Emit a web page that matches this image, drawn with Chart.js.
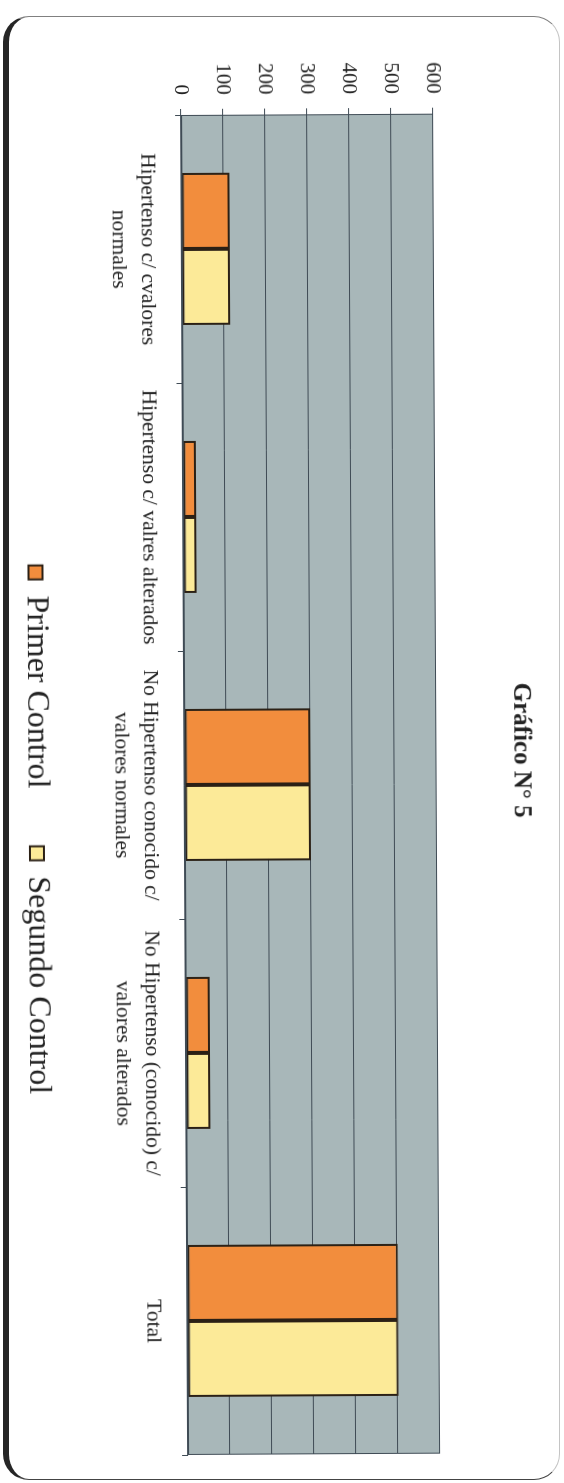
<!DOCTYPE html>
<html>
<head>
<meta charset="utf-8">
<title>Gráfico N° 5</title>
<script src="https://cdn.jsdelivr.net/npm/chart.js@4.4.1/dist/chart.umd.min.js"></script>
<style>
  body { margin: 0; background: #fff; width: 564px; height: 1483px; overflow: hidden; position: relative; }
  /* borde de la hoja escaneada */
  .hoja {
    position: absolute; left: 3px; top: 16px; width: 550px; height: 1462px;
    border: 1px solid #c4c4c4; border-top-color: #808080; border-bottom-color: #444;
    border-left: 6px solid #262626; border-radius: 26px;
  }
  /* el grafico esta impreso girado sobre la pagina */
  #giro {
    position: absolute; left: 0; top: 0; width: 1483px; height: 564px;
    transform-origin: 0 0; transform: translate(561.5px, 0) rotate(89.7deg);
  }
</style>
</head>
<body>
<div class="hoja"></div>
<div id="giro"><canvas id="grafico" width="1483" height="564"></canvas></div>
<script>
const categorias = [
  ["Hipertenso c/ cvalores", "normales"],
  "Hipertenso c/ valres alterados",
  ["No Hipertenso conocido c/", "valores normales"],
  ["No Hipertenso (conocido) c/", "valores alterados"],
  "Total"
];
const primerControl = [114, 31, 300, 57, 502];
const segundoControl = [114, 31, 300, 57, 502];
const marcasY = [0, 100, 200, 300, 400, 500, 600];

const serif = "'Liberation Serif', 'DejaVu Serif', serif";
const tinta = '#222';
const rejilla = '#3f4b55';

// fondo gris del area de trazado y marco
const fondoGrafico = {
  id: 'fondoGrafico',
  beforeDraw(chart) {
    const { ctx, chartArea: a } = chart;
    ctx.save();
    ctx.fillStyle = '#a8b7b9';
    ctx.fillRect(a.left, a.top, a.width, a.height);
    ctx.restore();
  },
  afterDraw(chart) {
    const { ctx, chartArea: a } = chart;
    ctx.save();
    ctx.strokeStyle = rejilla;
    ctx.lineWidth = 1;
    ctx.strokeRect(a.left + 0.5, a.top + 0.5, a.width - 1, a.height - 1);
    ctx.restore();
  }
};

new Chart(document.getElementById('grafico'), {
  type: 'bar',
  data: {
    labels: categorias,
    datasets: [
      {
        label: 'Primer Control',
        data: primerControl,
        backgroundColor: '#f28d3d',
        borderColor: '#2b2015',
        borderWidth: 2,
        borderSkipped: false
      },
      {
        label: 'Segundo Control',
        data: segundoControl,
        backgroundColor: '#fcea98',
        borderColor: '#2b2015',
        borderWidth: 2,
        borderSkipped: false
      }
    ]
  },
  options: {
    responsive: false,
    animation: false,
    categoryPercentage: 0.567,
    barPercentage: 1,
    layout: { padding: { left: 47, right: 30, top: 0, bottom: 9 } },
    plugins: {
      tooltip: { enabled: false },
      title: {
        display: true,
        text: 'Gráfico N° 5',
        color: tinta,
        font: { family: serif, size: 25, weight: 'bold', lineHeight: 1.2 },
        padding: { top: 30, bottom: 69 }
      },
      legend: {
        position: 'bottom',
        fullSize: false,
        labels: {
          color: tinta,
          font: { family: serif, size: 32 },
          boxWidth: 14,
          boxHeight: 14,
          padding: 58,
          // hueco vacio al inicio para correr la leyenda hacia la derecha
          generateLabels(chart) {
            const items = Chart.defaults.plugins.legend.labels.generateLabels(chart);
            items.unshift({ text: '', fillStyle: 'rgba(0,0,0,0)', strokeStyle: 'rgba(0,0,0,0)', lineWidth: 0, hidden: false, datasetIndex: -1 });
            return items;
          }
        },
        onClick() {}
      }
    },
    scales: {
      x: {
        grid: {
          drawOnChartArea: false,
          drawTicks: true,
          tickLength: 6,
          tickColor: rejilla
        },
        border: { color: rejilla, width: 1 },
        ticks: {
          color: tinta,
          autoSkip: false,
          maxRotation: 0,
          padding: 14,
          font: { family: serif, size: 21.5, lineHeight: 1.35 }
        },
        afterFit(scale) { scale.height = 74; }
      },
      y: {
        min: marcasY[0],
        max: marcasY[marcasY.length - 1],
        afterBuildTicks(scale) { scale.ticks = marcasY.map(v => ({ value: v })); },
        grid: {
          color: rejilla,
          lineWidth: 1,
          tickLength: 6,
          tickColor: rejilla
        },
        border: { color: rejilla, width: 1 },
        ticks: {
          color: tinta,
          padding: 14,
          font: { family: serif, size: 21 }
        },
        afterFit(scale) { scale.width = 66; }
      }
    }
  },
  plugins: [fondoGrafico]
});
</script>
</body>
</html>
